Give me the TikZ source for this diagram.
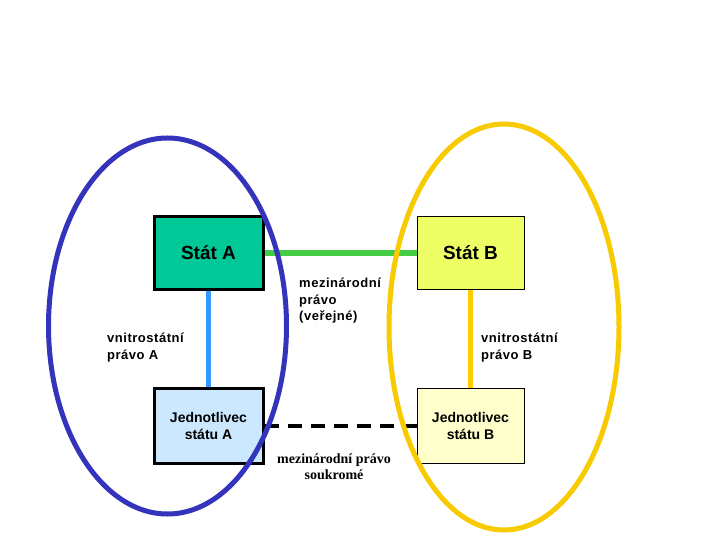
\documentclass[tikz,border=0pt]{standalone}
\usepackage{fontspec}
\setmainfont{Liberation Sans}
\newfontfamily\serifx{Liberation Serif}
\newfontfamily\lblfont[LetterSpace=4]{Liberation Sans}
\definecolor{stA}{HTML}{00C896}
\definecolor{stB}{HTML}{EEFF66}
\definecolor{jA}{HTML}{CCE8FF}
\definecolor{jB}{HTML}{FFFFCC}
\definecolor{lgreen}{HTML}{44CC44}
\definecolor{lblue}{HTML}{3399FF}
\definecolor{lyel}{HTML}{FFCC00}
\definecolor{elblue}{HTML}{3333BB}
\definecolor{elyel}{HTML}{F8CA00}
\begin{document}
\begin{tikzpicture}[x=1pt,y=-1pt,
  boxthick/.style={draw=black,line width=3pt,inner sep=0pt},
  boxthin/.style={draw=black,line width=1pt,inner sep=0pt},
  lbl/.style={font=\lblfont\bfseries\fontsize{13}{16.5}\selectfont,align=left,anchor=north west,inner sep=0pt},
  conn/.style={line width=5.5pt}]
\useasboundingbox[fill=white] (0,0) rectangle (720,540);
\node[boxthick,fill=stA,minimum width=109pt,minimum height=72pt,font=\bfseries\fontsize{19}{22}\selectfont] (SA) at (208.5,253) {Stát A};
\node[boxthin,fill=stB,minimum width=107pt,minimum height=72pt,font=\bfseries\fontsize{19}{22}\selectfont] (SB) at (470.5,253) {Stát B};
\node[boxthick,fill=jA,minimum width=109pt,minimum height=75pt,align=center,font=\bfseries\fontsize{14}{17}\selectfont] (JA) at (208.5,425.5) {Jednotlivec\\státu A};
\node[boxthin,fill=jB,minimum width=107pt,minimum height=75pt,align=center,font=\bfseries\fontsize{14}{17}\selectfont] (JB) at (470.5,425.5) {Jednotlivec\\státu B};
\draw[conn,lgreen] (SA.east) -- (SB.west);
\draw[conn,lblue,line width=5pt] (SA.south) -- (JA.north);
\draw[conn,lyel,line width=5pt] (SB.south) -- (JB.north);
\draw[line width=4pt,dash pattern=on 14pt off 9pt] (JA.east) -- (JB.west);
\node[lbl] (L1) at (299,278) {mezinárodní\\právo\\(veřejné)};
\node[lbl] (L2) at (107,333) {vnitrostátní\\právo A};
\node[lbl] (L3) at (481,333) {vnitrostátní\\právo B};
\node[font=\serifx\bfseries\fontsize{14}{16}\selectfont,align=center,inner sep=0pt] (L4) at (334,467) {mezinárodní právo\\soukromé};
\draw[elblue,line width=5pt] (167.5,326) ellipse [x radius=119, y radius=188];
\draw[elyel,line width=5pt] (504,327) ellipse [x radius=115, y radius=203];
\end{tikzpicture}
\end{document}
